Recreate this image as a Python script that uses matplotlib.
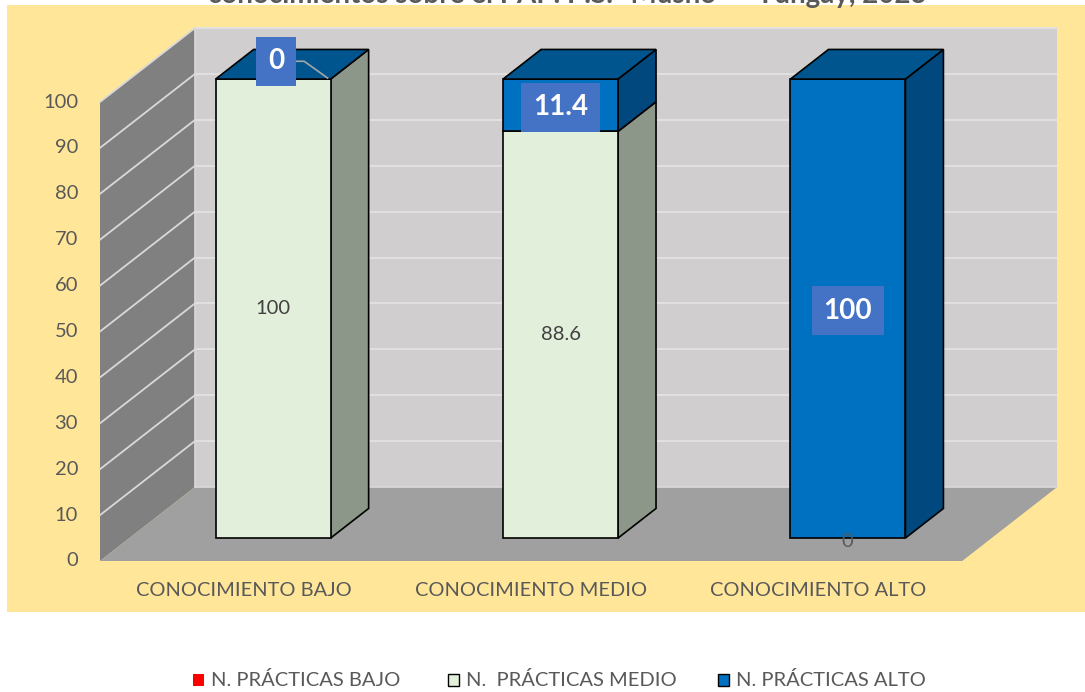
import matplotlib
matplotlib.use("Agg")
import matplotlib.pyplot as plt
from matplotlib.patches import Polygon, Rectangle

# ---------------- data ----------------
categories = ["CONOCIMIENTO BAJO", "CONOCIMIENTO MEDIO", "CONOCIMIENTO ALTO"]
series_names = ["N. PRÁCTICAS BAJO", "N.  PRÁCTICAS MEDIO", "N. PRÁCTICAS ALTO"]
bajo = [0, 0, 0]
medio = [100, 88.6, 0]
alto = [0, 11.4, 100]
yticks = [0, 10, 20, 30, 40, 50, 60, 70, 80, 90, 100]
title = "conocimientos sobre el PAP. P.S. \u201cMusho\u201d \u2013 Yungay, 2023"

# ---------------- style ----------------
FONT = ["Lato", "DejaVu Sans"]
plt.rcParams["font.family"] = FONT
GRAY_TXT = "#595959"
front_cols = ["#FF0000", "#E2EFDA", "#0070C0"]
side_cols = ["#B00000", "#8C978A", "#00487D"]
top_col = "#00558F"

W, H = 1085, 692
fig = plt.figure(figsize=(W / 100, H / 100), dpi=100)
fig.patch.set_facecolor("white")
ax = fig.add_axes([0, 0, 1, 1])
ax.set_xlim(0, W)
ax.set_ylim(H, 0)
ax.axis("off")

# oblique projection (layout constants)
X0, CW, Y0, VS, DX, DY = 100.0, 287.4, 561.0, 4.59, 95.0, 74.0
D0, D1, HALF = 0.31, 0.71, 0.2
VMAX = yticks[-1]
ncat = len(categories)


def P(c, v, d):
    return (X0 + c * CW + d * DX, Y0 - v * VS - d * DY)


def poly(pts, fc, ec="none", lw=0, z=1):
    ax.add_patch(Polygon(pts, closed=True, facecolor=fc, edgecolor=ec,
                         linewidth=lw, zorder=z, joinstyle="miter"))


# chart area background
ax.add_patch(Rectangle((7, 5), W - 7, 607, facecolor="#FFE699",
                       edgecolor="none", zorder=0))
ax.text(567, 3.5, title, ha="center", va="baseline", fontsize=20,
        fontweight="bold", color=GRAY_TXT, zorder=0.5)

# walls and floor
poly([P(0, 0, 1), P(ncat, 0, 1), P(ncat, VMAX, 1), P(0, VMAX, 1)], "#D0CECE", z=1)
poly([P(0, 0, 0), P(0, 0, 1), P(0, VMAX, 1), P(0, VMAX, 0)], "#808080", z=1)
poly([P(0, 0, 0), P(ncat, 0, 0), P(ncat, 0, 1), P(0, 0, 1)], "#A0A0A0", z=1)
for v in yticks[1:]:
    x1, y1 = P(0, v, 1)
    x2, y2 = P(ncat, v, 1)
    ax.plot([x1, x2], [y1, y2], color="#E3E3E3", lw=1.3, zorder=1.5)
    xa, ya = P(0, v, 0)
    ax.plot([xa, x1], [ya, y1], color="#D9D9D9", lw=1.3, zorder=1.5)
xa, ya = P(0, 0, 1)
xb, yb = P(0, VMAX, 1)
ax.plot([xa, xb], [ya, yb], color="#DADADA", lw=1.2, zorder=1.5)
xc, yc = P(ncat, 0, 1)
ax.plot([xa, xc], [ya, yc], color="#DADADA", lw=1.2, zorder=1.5)

# y tick labels
for v in yticks:
    x, y = P(0, v, 0)
    ax.text(x - 22, y, str(v), ha="right", va="center", fontsize=14.5,
            color=GRAY_TXT, zorder=5)

# category labels
for i, cat in enumerate(categories):
    x, _ = P(i + 0.5, 0, 0)
    ax.text(x, 591, cat, ha="center", va="center", fontsize=14.4,
            color=GRAY_TXT, zorder=5)

# bars
series = [bajo, medio, alto]
EC, LW = "black", 1.2
for i in range(ncat):
    c = i + 0.5
    xl, xr = c - HALF, c + HALF
    base = 0
    for s, vals in enumerate(series):
        v = vals[i]
        top = base + v
        if v > 0:
            z = 3 + s * 0.1
            poly([P(xr, base, D0), P(xr, base, D1), P(xr, top, D1), P(xr, top, D0)],
                 side_cols[s], EC, LW, z)
            poly([P(xl, base, D0), P(xr, base, D0), P(xr, top, D0), P(xl, top, D0)],
                 front_cols[s], EC, LW, z)
        base = top
    # top face (colour of the last series)
    poly([P(xl, base, D0), P(xr, base, D0), P(xr, base, D1), P(xl, base, D1)],
         top_col, EC, LW, 3.5)

# data labels
for i in range(ncat):
    c = i + 0.5
    # medio labels (plain)
    b = bajo[i]
    v = medio[i]
    x, y = P(c, b + v / 2, D0)
    if v > 0:
        ax.text(x, y, f"{v:g}", ha="center", va="center", fontsize=14.5,
                color="#404040", zorder=6)
    else:
        ax.text(x - 1, y + 3, f"{v:g}", ha="center", va="center", fontsize=14.5,
                color=GRAY_TXT, zorder=6)
    # alto labels (boxed)
    v = alto[i]
    b = bajo[i] + medio[i]
    box = dict(boxstyle="square,pad=0.42", facecolor="#4472C4", edgecolor="none")
    if v > 0:
        x, y = P(c, b + v / 2, D0)
        ax.text(x, y + 2, f"{v:g}", ha="center", va="center", fontsize=20,
                fontweight="bold", color="white", bbox=box, zorder=7)
    else:
        x, y = P(c, b, (D0 + D1) / 2)
        lx, ly = x - 16, y - 3
        ax.plot([lx + 16, lx + 28, P(c + HALF, b, D0)[0] - 3],
                [ly, ly, P(c + HALF, b, D0)[1] - 1],
                color="#A6A6A6", lw=1.2, zorder=6.5)
        ax.text(lx, ly, f"{v:g}", ha="center", va="center", fontsize=20,
                fontweight="bold", color="white", bbox=box, zorder=7)

# legend
leg_x = [193, 448, 718]
for s, name in enumerate(series_names):
    ec = "none" if s == 0 else "black"
    ax.add_patch(Rectangle((leg_x[s], 674), 11, 12, facecolor=front_cols[s],
                           edgecolor=ec, linewidth=1.0, zorder=5))
    ax.text(leg_x[s] + 18, 680, name, ha="left", va="center", fontsize=14.5,
            color=GRAY_TXT, zorder=5)

fig.savefig("out.png", dpi=100)
